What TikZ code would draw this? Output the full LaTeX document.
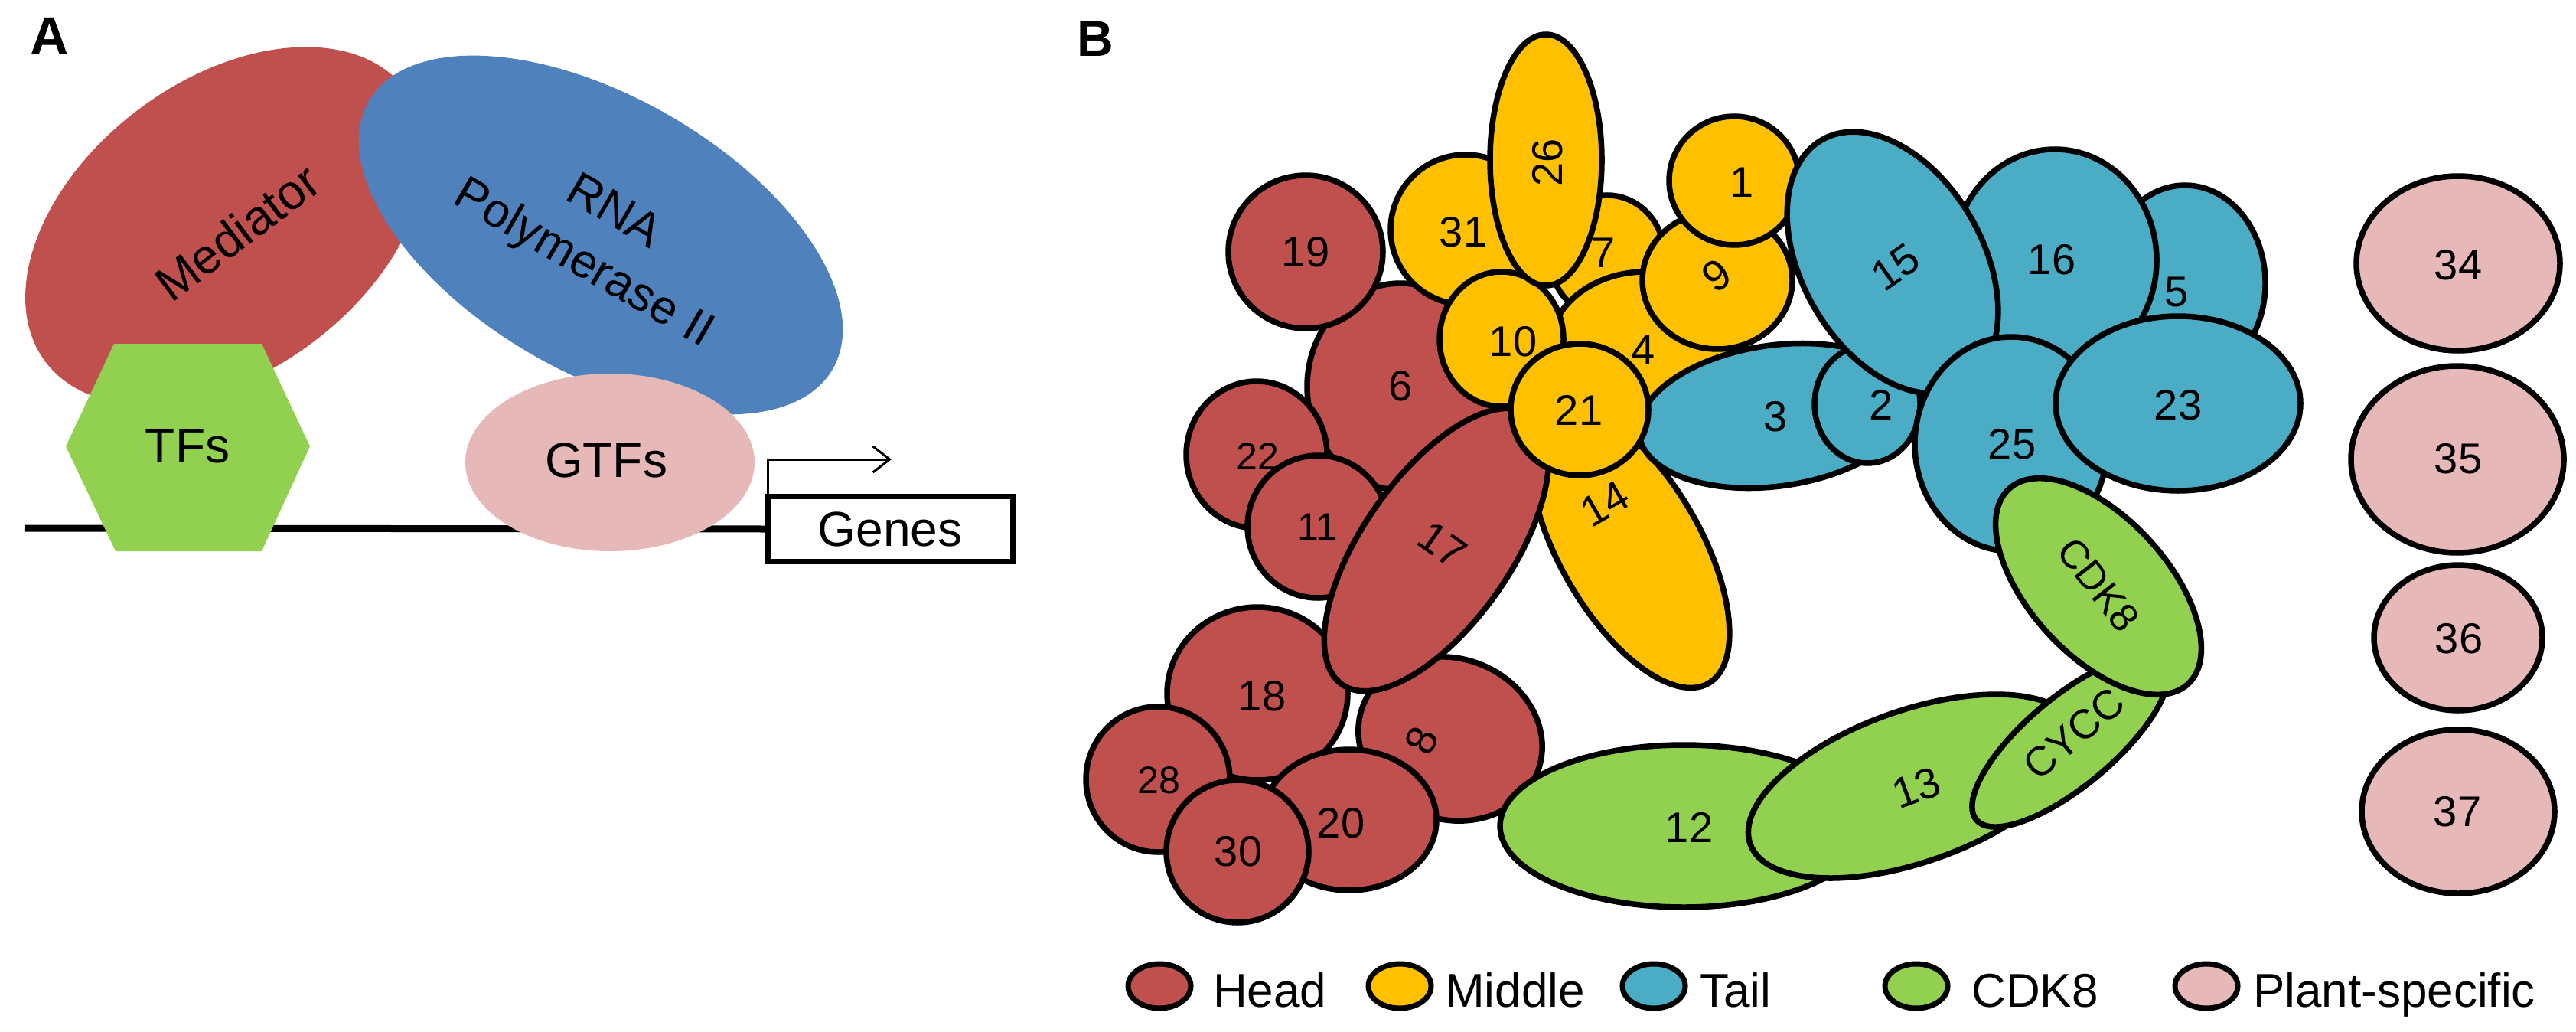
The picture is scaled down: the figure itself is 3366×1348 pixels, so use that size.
\documentclass[tikz,border=0pt]{standalone}
\usepackage{fontspec}
\setmainfont{Liberation Sans}
\usetikzlibrary{shapes.geometric,arrows.meta}
\definecolor{headc}{RGB}{192,80,77}
\definecolor{midc}{RGB}{255,192,0}
\definecolor{tailc}{RGB}{75,172,198}
\definecolor{cdkc}{RGB}{146,208,80}
\definecolor{plantc}{RGB}{230,185,184}
\definecolor{polc}{RGB}{79,129,189}
\newcommand{\mkblob}[7]{\node[blob,fill=#2,minimum width={2*#5},minimum height={2*#6},rotate=#7] (#1) at (#3,#4) {};}
\begin{document}
\begin{tikzpicture}[x=1pt,y=-1pt,
  blob/.style={draw=black,line width=7.5pt,ellipse,inner sep=0pt,outer sep=0pt},
  soft/.style={ellipse,inner sep=0pt,outer sep=0pt},
  num/.style={font=\fontsize{56}{60}\selectfont,inner sep=0pt},
  smallnum/.style={font=\fontsize{50}{54}\selectfont,inner sep=0pt},
  atext/.style={font=\fontsize{64}{76}\selectfont,inner sep=0pt},
  panel/.style={font=\fontsize{70}{80}\selectfont\bfseries,inner sep=0pt},
  legblob/.style={draw=black,line width=7pt,ellipse,inner sep=0pt,minimum width=82pt,minimum height=58pt},
  legtext/.style={font=\fontsize{62}{70}\selectfont,inner sep=0pt,anchor=base west}]
\path[use as bounding box] (0,0) rectangle (3366,1348);

% ---------------- Panel A ----------------
\node[panel] (pa) at (65,47) {A};
\node[soft,fill=headc,minimum width=590pt,minimum height=380pt,rotate=37] (mediator) at (295,295) {};
\node[soft,fill=polc,minimum width=700pt,minimum height=360pt,rotate=-30] (pol) at (785,307) {};
\node[atext,rotate=37] (tmed) at (310,303) {Mediator};
\node[atext,align=center,font=\fontsize{62}{78}\selectfont,rotate=-30] (tpol) at (781,313) {RNA\\Polymerase II};
\coordinate (dnastart) at (33,690);
\node[draw=black,line width=7pt,fill=white,minimum width=320pt,minimum height=85pt,inner sep=0pt,atext] (genes) at (1163,691) {Genes};
\draw[line width=9pt] (dnastart) -- (genes.west);
\fill[cdkc] (86,583) -- (149,449) -- (342,449) -- (405,583) -- (342,720) -- (151,720) -- cycle;
\node[atext] (tfs) at (245,583) {TFs};
\node[soft,fill=plantc,minimum width=378pt,minimum height=232pt] (gtfs) at (797,604) {};
\node[atext] (tgtfs) at (792,601) {GTFs};
\coordinate (tipend) at (1165,600);
\draw[line width=3pt,-{Straight Barb[length=22pt,width=34pt,line width=3pt]}] ([xshift=3.5pt]genes.north west) |- (tipend);

% ---------------- Panel B ----------------
\node[panel,font=\fontsize{66}{76}\selectfont\bfseries] (pb) at (1431,51) {B};

% head (lower layers)
\mkblob{h6}{headc}{1830}{505}{122}{135}{0}
\mkblob{h19}{headc}{1706}{329}{101}{100}{0}
\mkblob{h22}{headc}{1642}{594}{92}{96}{0}
\mkblob{h11}{headc}{1722}{688}{92}{93}{0}
\mkblob{h8}{headc}{1895}{965}{122}{105}{-20}
\mkblob{h18}{headc}{1643}{906}{118}{113}{0}
\mkblob{h20}{headc}{1763}{1071}{114}{92}{0}
\mkblob{h28}{headc}{1513}{1018}{94}{95}{0}
\mkblob{h30}{headc}{1617}{1112}{93}{93}{0}
% middle
\mkblob{m14}{midc}{2130}{715}{205}{92}{-60}
\mkblob{h17}{headc}{1877}{718}{215}{97}{55}
\mkblob{m31}{midc}{1915}{300}{98}{98}{0}
\mkblob{m7}{midc}{2100}{335}{75}{80}{0}
\mkblob{m4}{midc}{2150}{455}{125}{100}{0}
\mkblob{m10}{midc}{1962}{443}{81}{88}{0}
\mkblob{m26}{midc}{2020}{209}{73}{164}{0}
\mkblob{m9}{midc}{2244}{366}{98}{90}{0}
\mkblob{m1}{midc}{2266}{236}{85}{84}{0}
% tail
\mkblob{t5}{tailc}{2855}{370}{105}{128}{0}
\mkblob{t16}{tailc}{2685}{340}{133}{145}{0}
\mkblob{t3}{tailc}{2320}{543}{180}{92}{8}
\mkblob{t2}{tailc}{2440}{528}{69}{77}{0}
\mkblob{t15}{tailc}{2473}{343}{185}{118}{-60}
\mkblob{t25}{tailc}{2628}{580}{126}{140}{0}
\mkblob{t23}{tailc}{2846}{527}{160}{114}{0}
\mkblob{m21}{midc}{2064}{535}{90}{86}{0}
% CDK8 module
\mkblob{c12}{cdkc}{2200}{1079}{240}{106}{0}
\mkblob{c13}{cdkc}{2500}{1027}{226}{99}{19.5}
\mkblob{ccycc}{cdkc}{2705}{968}{160}{58}{40}
\mkblob{ccdk8}{cdkc}{2742}{766}{173}{90}{-47.5}
% plant-specific
\mkblob{p34}{plantc}{3212}{344}{133}{114}{0}
\mkblob{p35}{plantc}{3211}{600}{139}{122}{0}
\mkblob{p36}{plantc}{3212}{833}{110}{95}{0}
\mkblob{p37}{plantc}{3212}{1060}{126}{107}{0}

% labels
\node[num] (l19) at (1706,329) {19};
\node[num] (l31) at (1912,303) {31};
\node[num,rotate=90] (l26) at (2022,212) {26};
\node[num] (l7) at (2095,330) {7};
\node[num] (l10) at (1977,446) {10};
\node[num] (l4) at (2147,457) {4};
\node[num,rotate=35] (l9) at (2243,360) {9};
\node[num] (l1) at (2276,238) {1};
\node[num] (l6) at (1830,504) {6};
\node[smallnum] (l22) at (1643,596) {22};
\node[smallnum] (l11) at (1721,688) {11};
\node[num,rotate=-35] (l17) at (1885,712) {17};
\node[num] (l21) at (2063,536) {21};
\node[num,rotate=30] (l14) at (2097,658) {14};
\node[num] (l3) at (2320,544) {3};
\node[num] (l2) at (2458,529) {2};
\node[num,rotate=35] (l15) at (2477,349) {15};
\node[num] (l16) at (2681,339) {16};
\node[num] (l5) at (2844,382) {5};
\node[num] (l25) at (2629,580) {25};
\node[num] (l23) at (2846,529) {23};
\node[num] (l18) at (1649,909) {18};
\node[smallnum] (l28) at (1514,1019) {28};
\node[num] (l30) at (1618,1112) {30};
\node[num] (l20) at (1752,1075) {20};
\node[num,rotate=65] (l8) at (1858,967) {8};
\node[num] (l12) at (2207,1081) {12};
\node[num,rotate=20] (l13) at (2504,1029) {13};
\node[num,font=\fontsize{54}{58}\selectfont,rotate=40] (lcycc) at (2710,958) {CYCC};
\node[num,font=\fontsize{52}{56}\selectfont,rotate=-52] (lcdk8) at (2742,764) {CDK8};
\node[num] (l34) at (3212,346) {34};
\node[num] (l35) at (3212,599) {35};
\node[num] (l36) at (3213,834) {36};
\node[num] (l37) at (3211,1060) {37};

% legend
\node[legblob,fill=headc] (kh) at (1515,1288) {};
\node[legtext] (kht) at (1585,1315) {Head};
\node[legblob,fill=midc] (km) at (1829,1288) {};
\node[legtext] (kmt) at (1888,1315) {Middle};
\node[legblob,fill=tailc] (kt) at (2161,1288) {};
\node[legtext] (ktt) at (2221,1315) {Tail};
\node[legblob,fill=cdkc] (kc) at (2504,1288) {};
\node[legtext] (kct) at (2576,1315) {CDK8};
\node[legblob,fill=plantc] (kp) at (2883,1288) {};
\node[legtext] (kpt) at (2944,1315) {Plant-specific};
\end{tikzpicture}
\end{document}
